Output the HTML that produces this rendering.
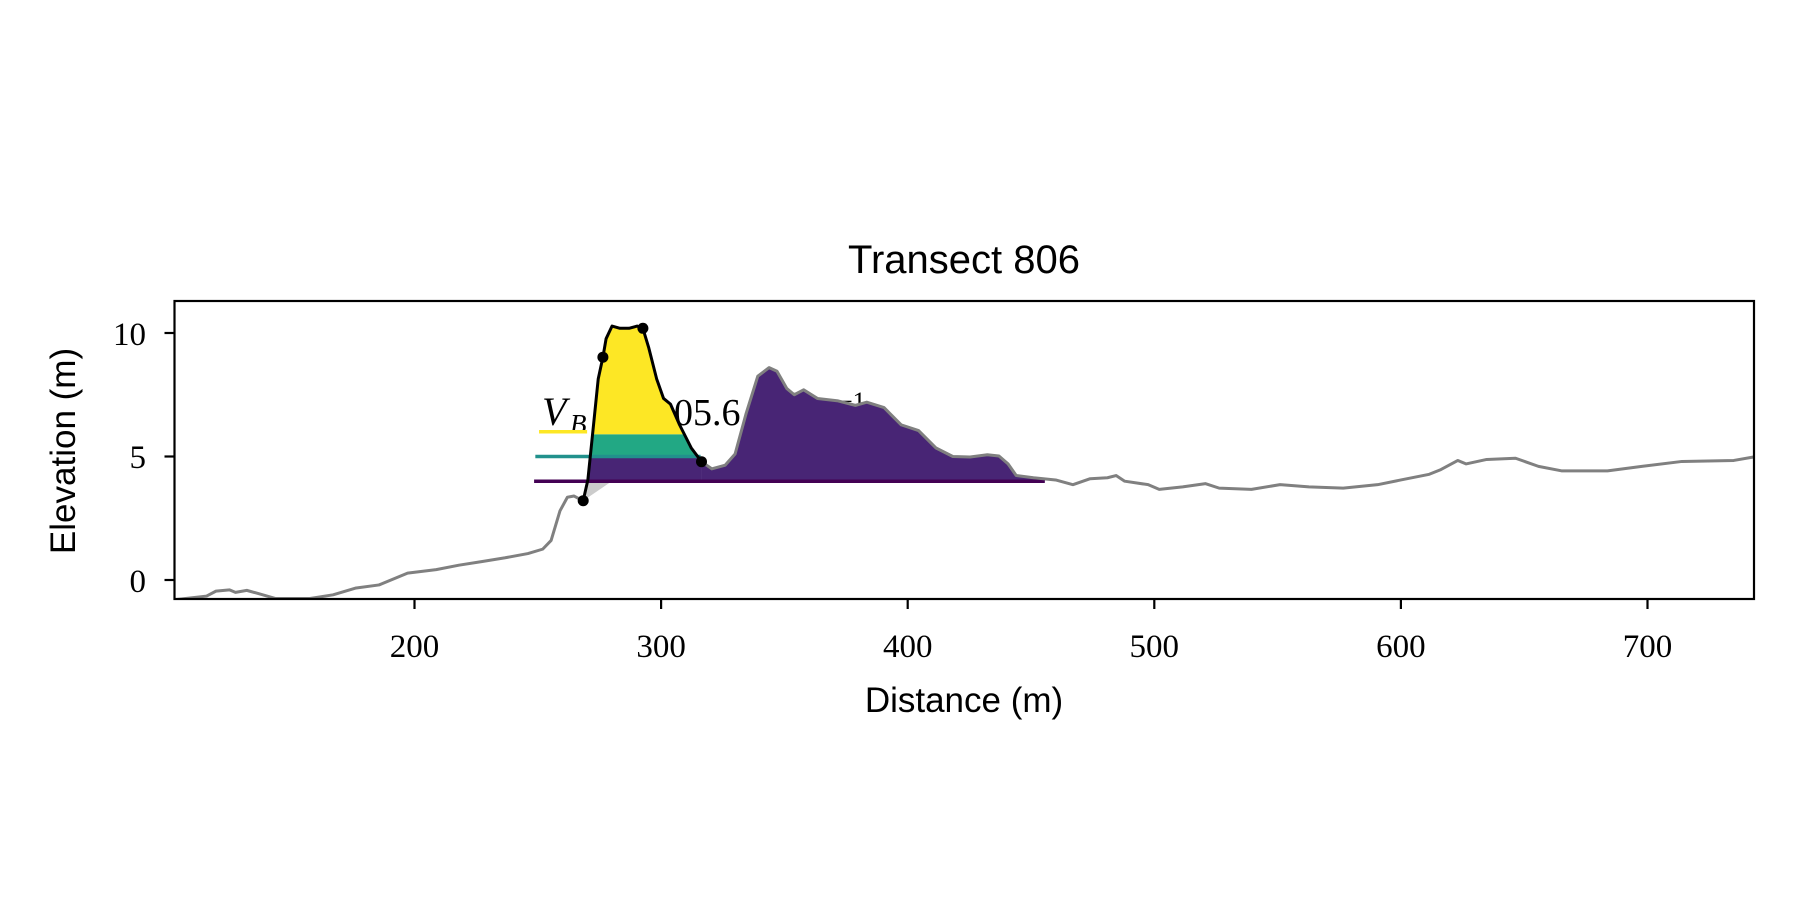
<!DOCTYPE html>
<html><head><meta charset="utf-8"><style>
html,body{margin:0;padding:0;background:#fff;}
svg{display:block;}
.t{font-family:"Liberation Serif",serif;font-size:33px;fill:#000;}
.s{font-family:"Liberation Sans",sans-serif;font-size:35px;fill:#000;}
</style></head><body>
<svg width="1800" height="900" viewBox="0 0 1800 900" xmlns="http://www.w3.org/2000/svg">
<defs>
<clipPath id="ax"><rect x="174.5" y="301" width="1579.5" height="298"/></clipPath>
<clipPath id="dune"><polygon points="268.4,3.21 270.3,4.05 272.6,6.28 274.5,8.14 276.4,9.02 277.7,9.77 280.1,10.28 283.3,10.19 287,10.19 290.3,10.28 292.6,10.19 295,9.4 298.2,8.14 301,7.35 303.8,7.12 307.5,6.28 312.2,5.35 316.4,4.79 316.4,4.0 270.3,4.0"/></clipPath>
</defs>
<text class="s" x="964" y="273" text-anchor="middle" style="font-size:40px">Transect 806</text>
<!-- annotation text behind fills -->
<g class="t" style="font-size:38px">
<text x="542" y="425" font-style="italic" font-size="40">V</text>
<text x="570" y="433" font-style="italic" font-size="27">B</text>
<text x="612" y="425">=</text>
<text x="655" y="425">105.6</text>
<text x="760" y="425">m</text>
<text x="792" y="410" font-size="26">3</text>
<text x="806" y="425">m</text>
<text x="838" y="410" font-size="26">−1</text>
</g>
<g clip-path="url(#ax)">
<g transform="translate(-78.7,580) scale(2.466,-24.7)">
<polygon points="268.4,3.21 280,4.0 270.3,4.0" fill="#cccccc"/>
<polygon points="316.4,4.79 320.6,4.5 326,4.65 330,5.1 334.5,6.75 339.2,8.25 343.8,8.6 347,8.45 351,7.75 354,7.5 357.8,7.7 363.4,7.35 371.8,7.25 378.8,7.07 383.4,7.2 390.4,6.98 397.4,6.28 404.4,6.05 411.4,5.35 418.3,5.0 425.3,4.98 432.3,5.07 437,5.02 440.7,4.7 444,4.23 451,4.14 455.6,4.1 455.6,4.0 316.4,4.0" fill="#482575"/>
<g clip-path="url(#dune)">
<rect x="260" y="4.0" width="70" height="0.95" fill="#482575"/>
<rect x="260" y="4.95" width="70" height="0.95" fill="#22a884"/>
<rect x="260" y="5.9" width="70" height="6" fill="#fde725"/>
</g>
<line x1="250.5" y1="6.0" x2="270" y2="6.0" stroke="#fde725" stroke-width="3.5" vector-effect="non-scaling-stroke"/>
<line x1="249" y1="5.0" x2="316" y2="5.0" stroke="#21918c" stroke-width="3.5" vector-effect="non-scaling-stroke"/>
<line x1="248.5" y1="4.0" x2="455.6" y2="4.0" stroke="#440154" stroke-width="3.5" vector-effect="non-scaling-stroke"/>
<polyline fill="none" stroke="#808080" stroke-width="3" vector-effect="non-scaling-stroke" stroke-linejoin="round" points="102.7,-0.8 115.7,-0.65 119.5,-0.45 125,-0.4 127.4,-0.5 132,-0.42 136.7,-0.55 143.7,-0.75 157.6,-0.75 167,-0.6 176,-0.33 185.6,-0.2 197.2,0.28 208.8,0.42 218,0.6 227.5,0.75 236.8,0.9 246,1.07 252,1.25 255.4,1.6 259,2.8 262,3.35 264.7,3.4 268.4,3.2"/>
<polyline fill="none" stroke="#808080" stroke-width="3" vector-effect="non-scaling-stroke" stroke-linejoin="round" points="316.4,4.79 320.6,4.5 326,4.65 330,5.1 334.5,6.75 339.2,8.25 343.8,8.6 347,8.45 351,7.75 354,7.5 357.8,7.7 363.4,7.35 371.8,7.25 378.8,7.07 383.4,7.2 390.4,6.98 397.4,6.28 404.4,6.05 411.4,5.35 418.3,5.0 425.3,4.98 432.3,5.07 437,5.02 440.7,4.7 444,4.23 451,4.14 460,4.05 467,3.86 474,4.1 481,4.14 484.5,4.23 488,4.0 497.5,3.86 502,3.67 511.5,3.77 520.8,3.9 526.3,3.72 539.4,3.67 551,3.86 562.7,3.77 576.6,3.72 590.6,3.86 600,4.05 611.5,4.28 616.2,4.47 623.1,4.84 626.4,4.7 634.8,4.88 646.5,4.93 655.8,4.6 665.1,4.42 683.8,4.42 697.7,4.6 714,4.8 735,4.84 743,4.98"/>
<polyline fill="none" stroke="#000" stroke-width="3" vector-effect="non-scaling-stroke" stroke-linejoin="round" points="268.4,3.21 270.3,4.05 272.6,6.28 274.5,8.14 276.4,9.02 277.7,9.77 280.1,10.28 283.3,10.19 287,10.19 290.3,10.28 292.6,10.19 295,9.4 298.2,8.14 301,7.35 303.8,7.12 307.5,6.28 312.2,5.35 316.4,4.79"/>
</g>
</g>
<g fill="#000">
<circle cx="583.2" cy="500.7" r="5.5"/><circle cx="602.9" cy="357.2" r="5.5"/><circle cx="642.9" cy="328.3" r="5.5"/><circle cx="701.5" cy="461.7" r="5.5"/>
</g>
<rect x="174.5" y="301" width="1579.5" height="298" fill="none" stroke="#000" stroke-width="2.2"/>
<g stroke="#000" stroke-width="2.2">
<line x1="414.5" y1="599" x2="414.5" y2="609"/><line x1="661.1" y1="599" x2="661.1" y2="609"/><line x1="907.7" y1="599" x2="907.7" y2="609"/><line x1="1154.3" y1="599" x2="1154.3" y2="609"/><line x1="1400.9" y1="599" x2="1400.9" y2="609"/><line x1="1647.5" y1="599" x2="1647.5" y2="609"/>
<line x1="164.5" y1="580" x2="174.5" y2="580"/><line x1="164.5" y1="456.5" x2="174.5" y2="456.5"/><line x1="164.5" y1="333" x2="174.5" y2="333"/>
</g>
<g class="t" text-anchor="middle">
<text x="414.5" y="657">200</text><text x="661.1" y="657">300</text><text x="907.7" y="657">400</text><text x="1154.3" y="657">500</text><text x="1400.9" y="657">600</text><text x="1647.5" y="657">700</text>
</g>
<g class="t" text-anchor="end">
<text x="146" y="592">0</text><text x="146" y="468">5</text><text x="146" y="345">10</text>
</g>
<text class="s" x="964" y="712" text-anchor="middle">Distance (m)</text>
<text class="s" x="75" y="451" text-anchor="middle" transform="rotate(-90 75 451)">Elevation (m)</text>
</svg>
</body></html>
